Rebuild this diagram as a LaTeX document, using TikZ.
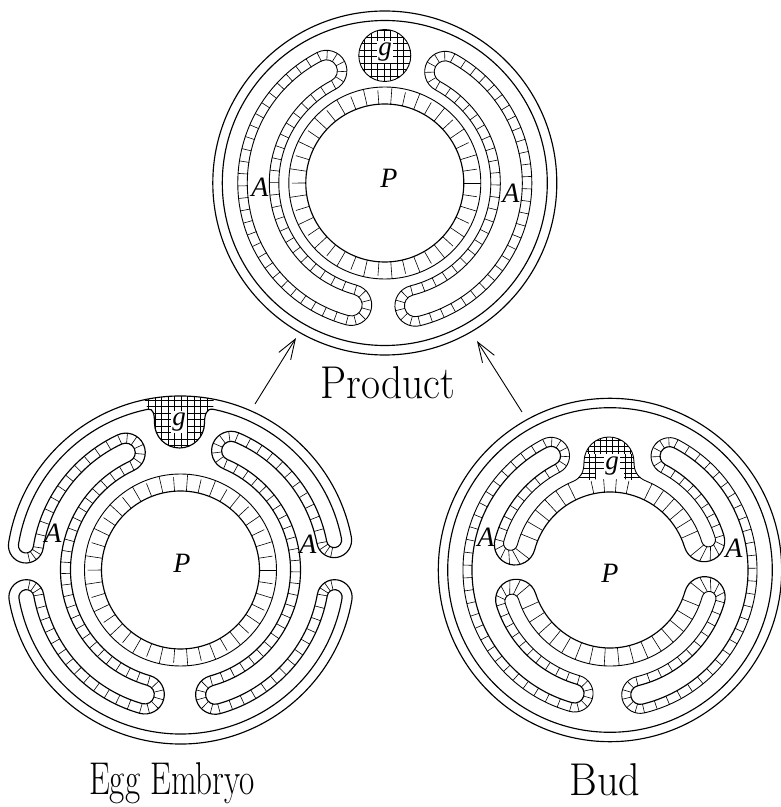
\documentclass[tikz,border=0pt]{standalone}
\usepackage{fontspec}
\newfontfamily\letterfont{Liberation Serif}
\usetikzlibrary{arrows.meta,calc}
\tikzset{
  wall/.style={line width=1.15pt,line join=round},
  thin wall/.style={line width=0.9pt,line join=round},
  tick/.style={line width=0.6pt},
  hatch/.style={line width=0.55pt},
  letter/.style={font=\letterfont\itshape\fontsize{28}{28}\selectfont,inner sep=0pt},
  gletter/.style={font=\letterfont\itshape\fontsize{27}{27}\selectfont,inner sep=1.5pt,fill=white},
  script/.style={font=\rmfamily\fontsize{46}{46}\selectfont,inner sep=0pt,transform shape},
  growth/.style={line width=0.9pt,-{Straight Barb[length=20pt,width=14pt,line width=0.9pt]}}
}
\newcommand\arcp[3]{arc[start angle=#1,end angle=#2,radius=#3]}
% concentric radial ticks: r1 r2 from to n
\newcommand\rticks[5]{\foreach \i in {0,...,#5}{%
  \pgfmathsetmacro\q{(#3)+((#4)-(#3))*\i/#5}%
  \draw[tick] (\q:#1) -- (\q:#2);}}
% ring ticks, alternately short
\newcommand\ringticks[5]{\foreach \i in {0,...,#5}{%
  \pgfmathsetmacro\q{(#3)+((#4)-(#3))*\i/#5}%
  \ifodd\i\draw[tick] (\q:#1) -- (\q:#2-3);\else\draw[tick] (\q:#1) -- (\q:#2);\fi}}
% ticks in a rounded end: angle rc1 r1 rc2 r2 from to n
\newcommand\capticks[8]{\foreach \i in {1,...,#8}{%
  \pgfmathsetmacro\q{(#6)+((#7)-(#6))*\i/(#8+1)}%
  \draw[tick] ($(#1:#2)+(\q:#3)$) -- ($(#1:#4)+(\q:#5)$);}}
% closed tube: a b rm h
\newcommand\tubeloop[4]{\draw[thin wall] ({#1}:{#3+#4}) \arcp{#1}{#2}{#3+#4} \arcp{#2}{#2-180}{#4}
   \arcp{#2}{#1}{#3-#4} \arcp{#1+180}{#1}{#4} -- cycle;}
\newcommand\tubecells[3]{% a b n
  \tubeloop{#1}{#2}{126.5}{20.5}\tubeloop{#1}{#2}{126.5}{11}
  \rticks{137}{147}{#1}{#2}{#3}
  \pgfmathtruncatemacro\nn{#3*0.8}
  \rticks{106}{115.5}{#1}{#2}{\nn}
  \capticks{#1}{126.5}{11}{126.5}{20.5}{#1}{#1+180}{5}
  \capticks{#2}{126.5}{11}{126.5}{20.5}{#2-180}{#2}{5}}
\begin{document}
\begin{tikzpicture}[x=1pt,y=1pt]
\useasboundingbox (0,0) rectangle (781,807);
\fill[white] (0,0) rectangle (781,807);

% ---------- Product ----------
\begin{scope}[shift={(384.8,624)}]
  \draw[wall] (0,0) circle[radius=172];
  \draw[wall] (0,0) circle[radius=162.5];
  \draw[wall] (0,0) circle[radius=79];
  \draw[thin wall] (0,0) circle[radius=96];
  \ringticks{79}{96}{0}{351.5}{41}
  \tubecells{61.5}{-76}{28}
  \tubecells{254.6}{117.5}{28}
  \begin{scope}[shift={(0,-1)}]
  \begin{scope}
    \clip (0,128.5) circle[radius=26];
    \foreach \s in {-27,-20.5,...,27}{
      \draw[hatch] (\s,100) -- (\s,156);
      \draw[hatch] (-28,128.5+\s) -- (28,128.5+\s);}
  \end{scope}
  \draw[thin wall] (0,128.5) circle[radius=26];
  \end{scope}
\end{scope}

% ---------- Egg embryo ----------
\begin{scope}[shift={(180.5,237)}]
  \begin{scope}
    \clip (-32.7,160.7) .. controls (-27,162) and (-26,155) .. (-26,147)
       \arcp{180}{360}{25} .. controls (24,155) and (26,162) .. (32.7,160.7)
       -- (79:174) \arcp{79}{102}{174} -- cycle;
    \foreach \s in {-32,-25.5,...,32}{\draw[hatch] (\s,115) -- (\s,176);}
    \foreach \s in {118,124.5,...,176}{\draw[hatch] (-36,\s) -- (36,\s);}
  \end{scope}
  \draw[wall] (0,0) circle[radius=79];
  \draw[thin wall] (0,0) circle[radius=96];
  \ringticks{79}{96}{0}{351.5}{41}
  % outer contour, body wall joined to the lumen lines of the arms
  \draw[wall] (171:174) \arcp{171}{11}{174} \arcp{11}{-169}{17.5}
     \arcp{11}{67}{139} \arcp{67}{247}{9.5}
     \arcp{67}{-74.5}{120} \arcp{105.5}{285.5}{9.5}
     \arcp{-74.5}{-10}{139} \arcp{170}{-10}{17.5}
     \arcp{-10}{-170}{174} \arcp{-170}{-350}{17.5}
     \arcp{190}{254}{139} \arcp{254}{434}{9.5}
     \arcp{254}{115}{120} \arcp{295}{475}{9.5}
     \arcp{115}{171}{139} \arcp{351}{171}{17.5} -- cycle;
  % second contour with the bud of g
  \draw[wall] (171:164) \arcp{171}{101.5}{164}
     .. controls (-27,162) and (-26,155) .. (-26,147)
     \arcp{180}{360}{25}
     .. controls (24,155) and (26,162) .. (78.5:164)
     \arcp{78.5}{11}{164} \arcp{11}{-169}{7.5}
     \arcp{11}{67}{149} \arcp{67}{247}{19.5}
     \arcp{67}{-74.5}{110} \arcp{105.5}{285.5}{19.5}
     \arcp{-74.5}{-10}{149} \arcp{170}{-10}{7.5}
     \arcp{-10}{-170}{164} \arcp{-170}{-350}{7.5}
     \arcp{190}{254}{149} \arcp{254}{434}{19.5}
     \arcp{254}{115}{110} \arcp{295}{475}{19.5}
     \arcp{115}{171}{149} \arcp{351}{171}{7.5} -- cycle;
  \rticks{139}{149}{67}{11}{11}
  \rticks{139}{149}{-74.5}{-10}{13}
  \rticks{139}{149}{115}{171}{11}
  \rticks{139}{149}{254}{190}{13}
  \rticks{110}{120}{67}{-74.5}{25}
  \rticks{110}{120}{115}{254}{25}
  \capticks{67}{129.5}{9.5}{129.5}{19.5}{67}{247}{5}
  \capticks{-74.5}{129.5}{9.5}{129.5}{19.5}{-254.5}{-74.5}{5}
  \capticks{115}{129.5}{9.5}{129.5}{19.5}{-65}{115}{5}
  \capticks{254}{129.5}{9.5}{129.5}{19.5}{254}{434}{5}
  \capticks{11}{156.5}{7.5}{156.5}{17.5}{-169}{-79}{3}
  \capticks{-10}{156.5}{7.5}{156.5}{17.5}{80}{170}{3}
  \capticks{171}{156.5}{7.5}{156.5}{17.5}{261}{351}{3}
  \capticks{190}{156.5}{7.5}{156.5}{17.5}{10}{100}{3}
\end{scope}

% ---------- Bud ----------
\begin{scope}[shift={(610,237)}]
  \begin{scope}
    \clip (-36.9,88.6) .. controls (-29,92) and (-26,98) .. (-26,108)
       \arcp{180}{0}{25} .. controls (24,98) and (28,92) .. (36.9,88.6)
       -- (0,92) -- cycle;
    \foreach \s in {102,107.5,...,135}{\draw[hatch] (-30,\s) -- (30,\s);}
    \foreach \s in {93,97}{\draw[hatch] (-32,\s) -- (-14,\s);\draw[hatch] (14,\s) -- (32,\s);}
    \foreach \s in {-22,-16,...,24}{\draw[hatch] (\s,116) -- (\s,135);}
    \foreach \s in {-21,-15,15,21}{\draw[hatch] (\s,90) -- (\s,116);}
  \end{scope}
  \draw[wall] (0,0) circle[radius=171.7];
  \draw[wall] (0,0) circle[radius=162.3];
  % contour through the lumen of P
  \draw[wall] (165:78) \arcp{165}{17}{78} \arcp{197}{377}{20.5}
     \arcp{17}{62.4}{119} \arcp{242.4}{62.4}{9.5}
     \arcp{62.4}{-76.4}{138} \arcp{-76.4}{-256.4}{9.5}
     \arcp{-76.4}{-16}{119} \arcp{-16}{164}{20.5}
     \arcp{-16}{-162.4}{78} \arcp{17.6}{197.6}{20.5}
     \arcp{197.6}{254}{119} \arcp{74}{-106}{9.5}
     \arcp{254}{117.3}{138} \arcp{117.3}{-62.7}{9.5}
     \arcp{117.3}{165}{119} \arcp{165}{345}{20.5} -- cycle;
  % contour with the bud of g
  \draw[thin wall] (165:96) \arcp{165}{112.6}{96}
     .. controls (-29,92) and (-26,98) .. (-26,108)
     \arcp{180}{0}{25}
     .. controls (24,98) and (28,92) .. (67.4:96)
     \arcp{67.4}{17}{96} \arcp{197}{377}{7}
     \arcp{17}{62.4}{110} \arcp{242.4}{62.4}{18.5}
     \arcp{62.4}{-76.4}{147} \arcp{-76.4}{-256.4}{18.5}
     \arcp{-76.4}{-16}{110} \arcp{-16}{164}{7}
     \arcp{-16}{-162.4}{96} \arcp{17.6}{197.6}{7}
     \arcp{197.6}{254}{110} \arcp{74}{-106}{18.5}
     \arcp{254}{117.3}{147} \arcp{117.3}{-62.7}{18.5}
     \arcp{117.3}{165}{110} \arcp{165}{345}{7} -- cycle;
  \rticks{78}{96}{24}{64}{5}
  \rticks{78}{96}{116}{158}{5}
  \rticks{78}{96}{-22}{-156}{15}
  \rticks{78}{91}{78}{102}{3}
  \rticks{138}{147}{62.4}{-76.4}{27}
  \rticks{138}{147}{117.3}{254}{27}
  \rticks{110}{119}{62.4}{17}{8}
  \rticks{110}{119}{-76.4}{-16}{10}
  \rticks{110}{119}{117.3}{165}{8}
  \rticks{110}{119}{254}{197.6}{10}
  \capticks{62.4}{128.5}{9.5}{128.5}{18.5}{62.4}{242.4}{5}
  \capticks{-76.4}{128.5}{9.5}{128.5}{18.5}{-256.4}{-76.4}{5}
  \capticks{117.3}{128.5}{9.5}{128.5}{18.5}{-62.7}{117.3}{5}
  \capticks{254}{128.5}{9.5}{128.5}{18.5}{254}{434}{5}
  \capticks{17}{103}{7}{98.5}{20.5}{-163}{17}{5}
  \capticks{-16}{103}{7}{98.5}{20.5}{-16}{164}{5}
  \capticks{165}{103}{7}{98.5}{20.5}{165}{345}{5}
  \capticks{197.6}{103}{7}{98.5}{20.5}{17.6}{197.6}{5}
\end{scope}

% ---------- Letters ----------
\node[letter] (pP) at (389,629) {P};
\node[letter] (pAl) at (260,620) {A};
\node[letter] (pAr) at (511,614) {A};
\node[gletter] (pg) at (385,755) {g};
\node[letter] (eP) at (182,244) {P};
\node[letter] (eAl) at (53,274) {A};
\node[letter] (eAr) at (308,263) {A};
\node[gletter] (eg) at (179,385) {g};
\node[letter] (bP) at (610,234) {P};
\node[letter] (bAl) at (486,270) {A};
\node[letter] (bAr) at (734,259) {A};
\node[gletter] (bg) at (612,341) {g};
\node[script,xscale=0.9] (product) at (388,424) {Product};
\node[script,xscale=0.72] (egg) at (172,24) {Egg Embryo};
\node[script,xscale=0.92] (bud) at (605,27) {Bud};

% ---------- Arrows ----------
\coordinate (eggtail) at (255,403);
\coordinate (prodtipl) at (296,469);
\coordinate (budtail) at (522,395);
\coordinate (prodtipr) at (477,466);
\draw[growth] (eggtail) -- (prodtipl);
\draw[growth] (budtail) -- (prodtipr);
\end{tikzpicture}
\end{document}
